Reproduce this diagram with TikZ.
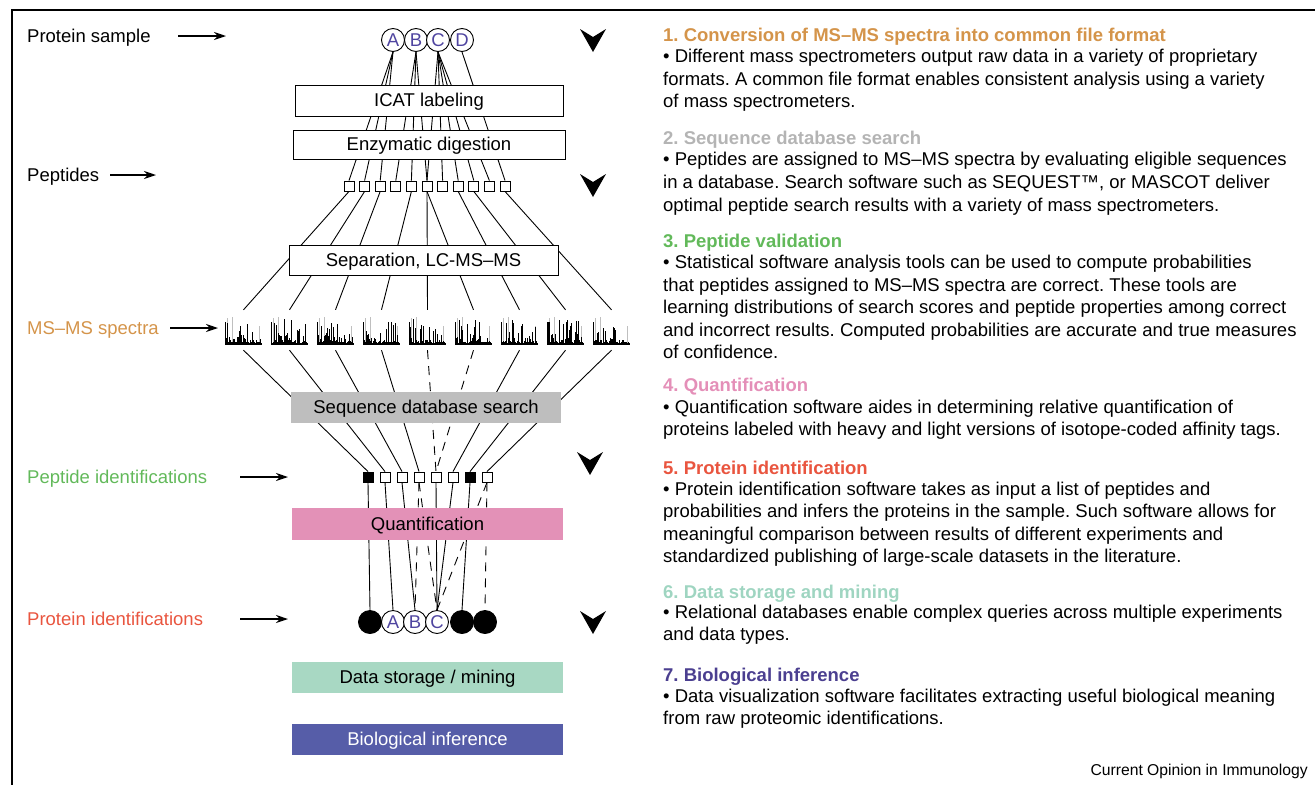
\documentclass[tikz,border=0pt]{standalone}
\usepackage{fontspec}
\setmainfont{Liberation Sans}
\usetikzlibrary{arrows.meta}
\pgfdeclarelayer{bg}
\pgfsetlayers{bg,main}
\frenchspacing
\definecolor{cOrange}{HTML}{D4944A}
\definecolor{cGray}{HTML}{B4B4B4}
\definecolor{cGreen}{HTML}{62B95A}
\definecolor{cPink}{HTML}{E48FB8}
\definecolor{cRed}{HTML}{E9553F}
\definecolor{cTeal}{HTML}{9FD5C1}
\definecolor{cPurple}{HTML}{4B3F90}
\definecolor{cLetter}{HTML}{4F45A0}
\definecolor{boxGray}{HTML}{BEBEBE}
\definecolor{boxPink}{HTML}{E391B7}
\definecolor{boxTeal}{HTML}{A8D8C3}
\definecolor{boxBlue}{HTML}{565DA8}
\newcommand\drawspec[2]{%
  \begin{scope}[shift={(#1.center)}]
    \pgfmathsetseed{#2}
    \draw[specgray] (-16.5,14)--(-16.5,-12) (-11,14)--(-11,-13) (15.5,14)--(15.5,-4);
    \foreach \i in {0,...,42}{\pgfmathsetmacro\hh{1.5+24*rnd^4}\draw[specbar] ({-17+\i*0.8},14)--++(0,-\hh);}
    \draw[line width=1.8] (-18.5,14)--(18.5,14);
    \draw[specbar] (-18.5,14)--(-18.5,-8);
  \end{scope}}
\tikzset{
  txt/.style={font=\fontsize{18.5}{22}\selectfont},
  lbl/.style={txt, anchor=base west, inner sep=0pt},
  rt/.style={txt, anchor=base west, inner sep=0pt},
  hd/.style={rt, font=\fontsize{18.5}{22}\selectfont\bfseries},
  boxtext/.style={txt, text height=14pt, text depth=2pt},
  stagebox/.style={boxtext, draw, line width=0.9pt, fill=white, inner sep=0pt, minimum height=30pt},
  fillbox/.style={boxtext, inner sep=0pt, minimum width=271pt, minimum height=31pt},
  topc/.style={circle, draw, line width=0.9pt, fill=white, minimum size=23pt, inner sep=0pt, txt, text=cLetter},
  blackc/.style={circle, draw, line width=0.9pt, fill=black, minimum size=23pt, inner sep=0pt},
  sq/.style={draw, line width=0.9pt, fill=white, minimum size=10pt, inner sep=0pt},
  bsq/.style={sq, fill=black},
  spec/.style={minimum width=37pt, minimum height=40pt, inner sep=0pt},
  specbar/.style={line width=0.65pt},
  specgray/.style={line width=0.9pt, color=black!25},
  conn/.style={line width=0.9pt},
  dconn/.style={conn, dash pattern=on 9pt off 7pt},
  larrow/.style={line width=1.3pt, -{Stealth[length=12pt, width=8pt]}},
  chev/.pic={\fill (-13,-11) -- (0,-3) -- (13,-11) -- (0,12) -- cycle;}
}
\begin{document}
\begin{tikzpicture}[x=1pt, y=-1pt]
\useasboundingbox (0,0) rectangle (1315,785);
% frame
\draw[line width=1.4pt] (1315,10) -- (12,10) -- (12,785);

% left labels and arrows
\node[lbl] (lProt) at (27,42) {Protein sample};
\node[lbl] (lPep) at (27,181) {Peptides};
\node[lbl, text=cOrange] (lMS) at (27,334) {MS–MS spectra};
\node[lbl, text=cGreen] (lPid) at (27,483) {Peptide identifications};
\node[lbl, text=cRed] (lPrid) at (27,625) {Protein identifications};
\coordinate (a1s) at (178,36); \coordinate (a1e) at (226,36);
\coordinate (a2s) at (110,175); \coordinate (a2e) at (156,175);
\coordinate (a3s) at (170,328); \coordinate (a3e) at (218,328);
\coordinate (a4s) at (240,477); \coordinate (a4e) at (288,477);
\coordinate (a5s) at (240,619); \coordinate (a5e) at (288,619);
\draw[larrow] (a1s) -- (a1e);
\draw[larrow] (a2s) -- (a2e);
\draw[larrow] (a3s) -- (a3e);
\draw[larrow] (a4s) -- (a4e);
\draw[larrow] (a5s) -- (a5e);

% protein sample circles
\node[topc] (cA) at (393,40) {A};
\node[topc] (cB) at (416,40) {B};
\node[topc] (cC) at (438,40) {C};
\node[topc] (cD) at (462,40) {D};

% boxes
\node[stagebox, minimum width=268pt, minimum height=31pt] (icat) at (429,100.5) {ICAT labeling};
\node[stagebox, minimum width=272pt, minimum height=29pt] (enz) at (429,144.5) {Enzymatic digestion};
\node[stagebox, minimum width=269pt] (sep) at (423.5,260.5) {Separation, LC-MS–MS};
\node[fillbox, fill=boxGray, minimum width=270pt] (sds) at (426,407) {Sequence database search};
\node[fillbox, fill=boxPink, minimum height=32pt] (quant) at (427.5,524) {Quantification};
\node[fillbox, fill=boxTeal] (dsm) at (427.5,677.5) {Data storage / mining};
\node[fillbox, fill=boxBlue, text=white] (bio) at (427.5,739.5) {Biological inference};

% peptides
\foreach \i in {0,...,10}{\node[sq] (p\i) at ({349+15.6*\i},186) {};}
% spectra
\foreach \i in {0,...,8}{\node[spec] (s\i) at ({243.5+46*\i},330) {};}
\foreach \i/\sd in {0/11,1/23,2/37,3/41,4/53,5/67,6/71,7/89,8/97}{\drawspec{s\i}{\sd}}
% peptide identifications
\foreach \i in {0,...,7}{\node[sq] (q\i) at ({368+17*\i},477) {};}
\node[bsq] at (q0) {};
\node[bsq] at (q6) {};
% protein identifications
\node[blackc] (o0) at (370,622) {};
\node[topc] (oA) at (393,622) {A};
\node[topc] (oB) at (415,622) {B};
\node[topc] (oC) at (437,622) {C};
\node[blackc] (o4) at (462,622) {};
\node[blackc] (o5) at (485,622) {};

\begin{pgfonlayer}{bg}
  \foreach \t in {0,1,2}{\draw[conn] (cA.south) -- (p\t.north);}
  \foreach \t in {3,4,5}{\draw[conn] (cB.south) -- (p\t.north);}
  \foreach \t in {5,6,7,8,9}{\draw[conn] (cC.south) -- (p\t.north);}
  \draw[conn] (cD.south) -- (p10.north);
  \foreach \p/\s in {0/0,1/1,2/2,4/3,5/4,5/5,7/6,8/7,10/8}{\draw[conn] (p\p.south) -- (s\s.north);}
  \foreach \s/\q in {0/0,1/1,2/2,3/3,6/5,7/6,8/7}{\draw[conn] (s\s.south) -- (q\q.north);}
  \draw[dconn] (s4.south) -- (q4.north);
  \draw[dconn] (s5.south) -- (q4.north);
  \draw[conn] (q0.south) -- (o0.north);
  \draw[conn] (q1.south) -- (oA.north);
  \draw[conn] (q2.south) -- (oB.north);
  \draw[dconn] (q3.south) -- (oB.north);
  \draw[dconn] (q3.south) -- (oC.north);
  \draw[conn] (q4.south) -- (oC.north);
  \draw[conn] (q5.south) -- (oC.north);
  \draw[conn] (q6.south) -- (o4.north);
  \draw[dconn] (q7.south) -- (oC.north);
  \draw[dconn] (q7.south) -- (o5.north);
\end{pgfonlayer}

% chevrons
\pic at (593,40) {chev};
\pic at (593,185) {chev};
\pic at (590,463) {chev};
\pic at (593,622) {chev};

% right text
\node[hd, text=cOrange] (h1) at (663,41) {1. Conversion of MS–MS spectra into common file format};
\node[rt] (t1a) at (663,62) {• Different mass spectrometers output raw data in a variety of proprietary};
\node[rt] (t1b) at (663,85) {formats. A common file format enables consistent analysis using a variety};
\node[rt] (t1c) at (663,107) {of mass spectrometers.};
\node[hd, text=cGray] (h2) at (663,144) {2. Sequence database search};
\node[rt] (t2a) at (663,165) {• Peptides are assigned to MS–MS spectra by evaluating eligible sequences};
\node[rt] (t2b) at (663,188) {in a database. Search software such as SEQUEST™, or MASCOT deliver};
\node[rt] (t2c) at (663,211) {optimal peptide search results with a variety of mass spectrometers.};
\node[hd, text=cGreen] (h3) at (663,247) {3. Peptide validation};
\node[rt] (t3a) at (663,268) {• Statistical software analysis tools can be used to compute probabilities};
\node[rt] (t3b) at (663,291) {that peptides assigned to MS–MS spectra are correct. These tools are};
\node[rt] (t3c) at (663,313) {learning distributions of search scores and peptide properties among correct};
\node[rt] (t3d) at (663,336) {and incorrect results. Computed probabilities are accurate and true measures};
\node[rt] (t3e) at (663,358) {of confidence.};
\node[hd, text=cPink] (h4) at (663,391) {4. Quantification};
\node[rt] (t4a) at (663,413) {• Quantification software aides in determining relative quantification of};
\node[rt] (t4b) at (663,435) {proteins labeled with heavy and light versions of isotope-coded affinity tags.};
\node[hd, text=cRed] (h5) at (663,474) {5. Protein identification};
\node[rt] (t5a) at (663,495) {• Protein identification software takes as input a list of peptides and};
\node[rt] (t5b) at (663,517) {probabilities and infers the proteins in the sample. Such software allows for};
\node[rt] (t5c) at (663,540) {meaningful comparison between results of different experiments and};
\node[rt] (t5d) at (663,562) {standardized publishing of large-scale datasets in the literature.};
\node[hd, text=cTeal] (h6) at (663,598) {6. Data storage and mining};
\node[rt] (t6a) at (663,618) {• Relational databases enable complex queries across multiple experiments};
\node[rt] (t6b) at (663,640) {and data types.};
\node[hd, text=cPurple] (h7) at (663,681) {7. Biological inference};
\node[rt] (t7a) at (663,702) {• Data visualization software facilitates extracting useful biological meaning};
\node[rt] (t7b) at (663,724) {from raw proteomic identifications.};
\node[anchor=base east, inner sep=0pt, font=\fontsize{15.7}{18}\selectfont] (src) at (1308,775) {Current Opinion in Immunology};
\end{tikzpicture}
\end{document}
